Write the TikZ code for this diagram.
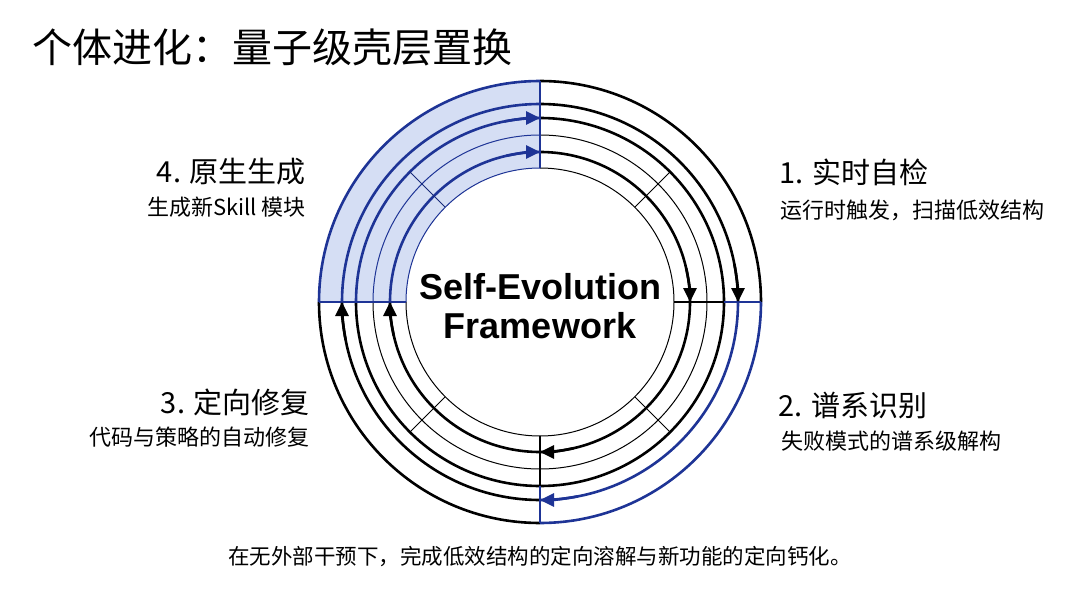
\documentclass[tikz,border=0pt]{standalone}
\usepackage{fontspec}
\setmainfont{Noto Sans CJK SC}
\newfontfamily\corefont{Liberation Sans}
\usetikzlibrary{arrows.meta, calc}
\definecolor{ringblue}{RGB}{30,52,150}
\definecolor{shadeblue}{RGB}{213,222,244}

\begin{document}
\begin{tikzpicture}[x=1pt, y=1pt,
    label/.style={inner sep=0pt, font=\fontsize{29}{34}\selectfont},
    sublabel/.style={inner sep=0pt, font=\fontsize{22}{26}\selectfont},
    spoke/.style={line width=1.3pt},
    tip/.style={-{Triangle[length=14pt, width=13pt]}, line width=2.6pt}]
  \fill[white] (0,0) rectangle (1080,-602);
  \useasboundingbox (0,0) rectangle (1080,-602);
  \coordinate (c) at (540,-302);
  \fill[shadeblue] ($(c)+(90:221)$) arc (90:180:221) -- ($(c)+(180:134)$) arc (180:90:134) -- cycle;
  \foreach \r/\lw in {221/2.6,198/2.6,184/2.6,167/1,150/2.6,134/1}{
    \draw[line width=\lw pt] ($(c)+(0:\r)$) arc (0:90:\r);
    \draw[line width=\lw pt, ringblue] ($(c)+(90:\r)$) arc (90:180:\r);
    \draw[line width=\lw pt] ($(c)+(180:\r)$) arc (180:270:\r);
  }
  \foreach \r/\lw/\col in {221/2.6/ringblue,198/2.6/ringblue,184/2.6/black,167/1/black,150/2.6/black,134/1/black}
    \draw[line width=\lw pt, \col] ($(c)+(270:\r)$) arc (270:360:\r);
  \draw[spoke, ringblue] ($(c)+(90:134)$) -- ($(c)+(90:221)$);
  \draw[spoke, ringblue] ($(c)+(180:134)$) -- ($(c)+(180:221)$);
  \draw[spoke] ($(c)+(0:134)$) -- ($(c)+(0:184)$);
  \draw[spoke, ringblue] ($(c)+(0:184)$) -- ($(c)+(0:221)$);
  \draw[spoke] ($(c)+(270:134)$) -- ($(c)+(270:184)$);
  \draw[spoke, ringblue] ($(c)+(270:184)$) -- ($(c)+(270:221)$);
  \foreach \a in {45,225,315}
    \draw[line width=1pt] ($(c)+(\a:134)$) -- ($(c)+(\a:184)$);
  \draw[line width=1pt, ringblue!80!black] ($(c)+(135:134)$) -- ($(c)+(135:184)$);
  \draw[tip, ringblue] ($(c)+(101:184)$) arc (101:90:184);
  \draw[tip, ringblue] ($(c)+(103:150)$) arc (103:90:150);
  \draw[tip] ($(c)+(11:198)$) arc (11:0:198);
  \draw[tip] ($(c)+(13:150)$) arc (13:0:150);
  \draw[tip] ($(c)+(283:150)$) arc (283:270:150);
  \draw[tip, ringblue] ($(c)+(281:198)$) arc (281:270:198);
  \draw[tip] ($(c)+(191:198)$) arc (191:180:198);
  \draw[tip] ($(c)+(193:150)$) arc (193:180:150);
  \node[anchor=west, inner sep=0pt, font=\fontsize{40}{48}\selectfont] (title) at (32,-47) {个体进化：量子级壳层置换};
  \node[align=center, font=\corefont\bfseries\fontsize{36}{39}\selectfont] (core) at (540,-306) {Self-Evolution\\Framework};
  \node[label, anchor=west] (step1) at (779,-172) {1. 实时自检};
  \node[sublabel, anchor=west] (step1txt) at (780,-210) {运行时触发，扫描低效结构};
  \node[label, anchor=west] (step2) at (778,-405) {2. 谱系识别};
  \node[sublabel, anchor=west] (step2txt) at (781,-441) {失败模式的谱系级解构};
  \node[label, anchor=east] (step3) at (310,-402) {3. 定向修复};
  \node[sublabel, anchor=east] (step3txt) at (310,-437) {代码与策略的自动修复};
  \node[label, anchor=east] (step4) at (306,-172) {4. 原生生成};
  \node[sublabel, anchor=east] (step4txt) at (306,-207) {生成新Skill 模块};
  \node[inner sep=0pt, font=\fontsize{21.5}{26}\selectfont] (note) at (540,-557) {在无外部干预下，完成低效结构的定向溶解与新功能的定向钙化。};
\end{tikzpicture}
\end{document}
